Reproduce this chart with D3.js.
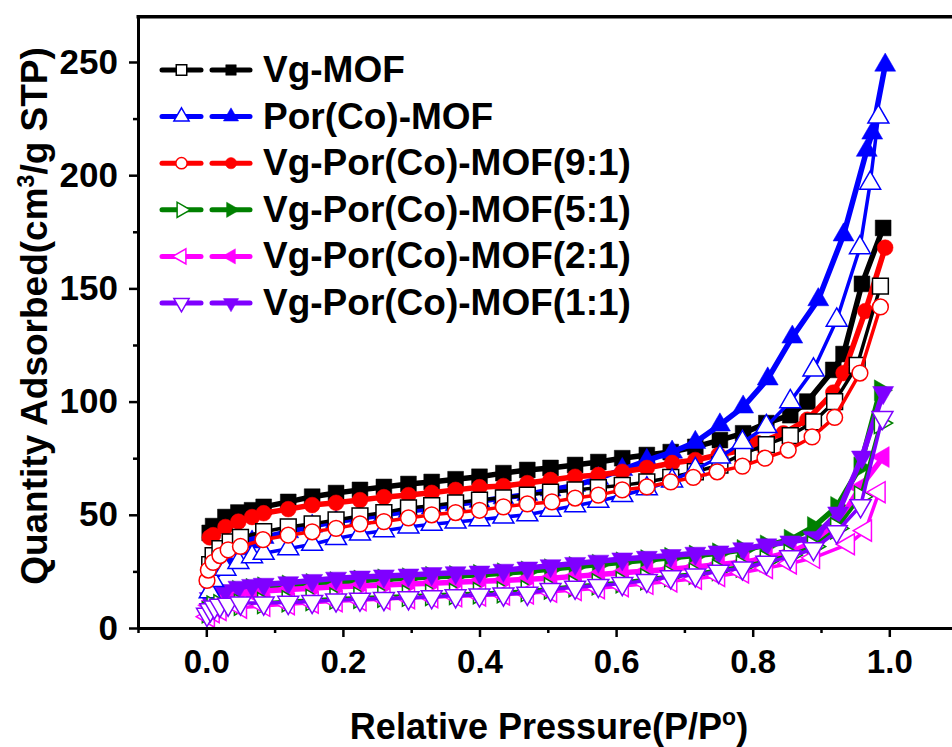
<!DOCTYPE html>
<html lang="en">
	<head>
		<meta charset="utf-8">
		<title>N2 isotherms</title>
		<script type="text/javascript" src="https://cdn.jsdelivr.net/npm/d3@7"></script>
		<style type="text/css">
			body { margin: 0; background: #fff; }
			svg { display: block; overflow: hidden; }
			.lbl {
				font-family: "Liberation Sans", Arial, Helvetica, sans-serif;
				font-weight: bold;
				fill: #000;
			}
		</style>
	</head>
	<body>
		<script type="text/javascript">

			//Width and height
			var w = 952;
			var h = 747;

			//Data: [P/P0, quantity]
			var vgAds = [[0.005,42],[0.01,45],[0.028,49],[0.047,51],[0.067,52],[0.084,53.5],[0.12,55.7],[0.155,58],[0.19,59.6],[0.225,61],[0.26,62.3],[0.296,63.6],[0.33,64.5],[0.365,65.7],[0.4,66.8],[0.435,68.4],[0.47,69.8],[0.504,70.7],[0.54,72],[0.574,73.3],[0.609,75],[0.645,76.4],[0.68,77.7],[0.716,80],[0.752,83],[0.786,86],[0.82,90.5],[0.855,94],[0.88,100],[0.918,114],[0.933,121],[0.96,152],[0.991,176.7]];
			var vgDes = [[0.005,28],[0.01,32],[0.02,35],[0.035,38],[0.05,40],[0.084,42.5],[0.12,44.6],[0.155,46],[0.19,47.7],[0.225,49.5],[0.26,51],[0.296,53],[0.33,54],[0.365,55.3],[0.4,56.5],[0.435,57.5],[0.47,58.7],[0.504,60],[0.54,61],[0.574,62],[0.609,63],[0.645,64.5],[0.68,66.5],[0.716,69],[0.752,72],[0.786,77],[0.82,81],[0.855,85],[0.889,91],[0.92,100],[0.953,116],[0.987,151]];

			var porAds = [[0.005,22],[0.01,26],[0.028,31],[0.047,35],[0.067,38],[0.084,40],[0.12,42.5],[0.155,45],[0.19,47],[0.225,48.5],[0.26,50],[0.296,51.5],[0.33,53],[0.365,54.5],[0.4,56],[0.435,57.5],[0.47,59],[0.504,61],[0.54,63],[0.574,66],[0.609,70],[0.645,74],[0.682,77.7],[0.716,82],[0.752,89.7],[0.786,97.6],[0.822,110],[0.858,128.5],[0.896,145],[0.933,173.6],[0.967,211],[0.975,218.6],[0.994,248.6]];
			var porDes = [[0.005,16],[0.01,21],[0.028,26],[0.047,29],[0.067,31.5],[0.084,33],[0.12,35],[0.155,37],[0.19,39.5],[0.225,41.5],[0.26,43],[0.296,44.6],[0.33,45.8],[0.365,46.8],[0.4,47.8],[0.435,49],[0.47,50],[0.504,52],[0.54,54],[0.574,56],[0.609,58.5],[0.645,61.5],[0.682,65],[0.716,70],[0.752,75.5],[0.785,82],[0.82,89],[0.855,100],[0.889,114],[0.923,136],[0.957,168],[0.972,196.5],[0.984,225.7]];

			var r91Ads = [[0.005,40],[0.01,41],[0.028,44.6],[0.047,47],[0.067,49],[0.084,50.7],[0.12,52.5],[0.155,54.3],[0.19,55.3],[0.225,56.5],[0.26,57.8],[0.296,58.7],[0.33,59.7],[0.365,61],[0.4,62.2],[0.435,62.7],[0.47,64],[0.504,65.4],[0.54,66.8],[0.574,67.6],[0.609,69],[0.645,70.7],[0.682,72.9],[0.716,74.2],[0.75,76.4],[0.786,78.6],[0.807,81.7],[0.845,86],[0.88,92],[0.918,104],[0.933,112.6],[0.965,140],[0.994,168]];
			var r91Des = [[0.001,21],[0.003,25.6],[0.01,29],[0.02,32],[0.032,34.5],[0.05,36],[0.083,39],[0.12,41],[0.155,42.5],[0.19,44],[0.225,46],[0.26,47],[0.296,48.6],[0.33,50],[0.365,51],[0.4,52],[0.435,53.5],[0.47,54.8],[0.506,55.7],[0.54,57.4],[0.574,58.7],[0.609,61],[0.645,62.3],[0.68,64.5],[0.713,66.5],[0.748,69],[0.785,71.5],[0.818,75],[0.852,78.6],[0.887,84.4],[0.92,93],[0.957,112.6],[0.987,141.8]];

			var r51Ads = [[0.005,12],[0.01,14],[0.028,15.5],[0.047,16.5],[0.067,17.3],[0.084,18],[0.12,18.8],[0.155,19.5],[0.19,20.3],[0.225,21],[0.26,21.5],[0.296,22],[0.33,22.6],[0.365,23],[0.4,23.5],[0.435,24.2],[0.47,25],[0.504,26],[0.54,27],[0.574,28],[0.609,29],[0.645,30],[0.68,31],[0.716,32],[0.75,33],[0.786,34.5],[0.82,36.5],[0.855,39],[0.889,44.6],[0.923,53.5],[0.957,71],[0.987,105]];
			var r51Des = [[0.003,7],[0.01,9.5],[0.02,10],[0.05,10.3],[0.084,11],[0.12,11.8],[0.155,12.4],[0.19,13],[0.225,13.4],[0.26,13.8],[0.296,14.2],[0.33,14.6],[0.365,15],[0.4,15.4],[0.435,15.8],[0.47,16.3],[0.504,17.5],[0.54,18.5],[0.574,19.3],[0.609,20.2],[0.645,21.5],[0.68,23],[0.716,24],[0.75,25.6],[0.785,27.2],[0.82,29.6],[0.855,32.2],[0.889,36],[0.923,44],[0.958,58],[0.987,90.5]];

			var r21Ads = [[0.005,10],[0.01,12],[0.028,13.5],[0.047,15],[0.067,15.8],[0.084,16.3],[0.12,17],[0.155,17.6],[0.19,18.2],[0.225,18.6],[0.26,19],[0.296,19.4],[0.33,19.8],[0.365,20.2],[0.4,20.6],[0.435,21],[0.47,21.5],[0.504,22],[0.54,22.8],[0.574,23.6],[0.609,24.4],[0.645,25.2],[0.68,26],[0.716,27],[0.75,28],[0.786,29],[0.82,31],[0.855,33.5],[0.889,38],[0.928,48],[0.957,62],[0.991,75.5]];
			var r21Des = [[0.003,5],[0.01,7],[0.02,8],[0.05,9],[0.084,9.8],[0.12,10.5],[0.155,11.2],[0.19,11.8],[0.225,12.3],[0.26,12.8],[0.296,13.2],[0.33,13.6],[0.365,14],[0.4,14.4],[0.435,14.8],[0.47,15.3],[0.504,16],[0.54,16.8],[0.574,17.6],[0.609,18.5],[0.645,19.5],[0.68,20.6],[0.716,21.8],[0.75,23],[0.785,24.5],[0.82,26.5],[0.855,28.5],[0.889,31],[0.94,37],[0.965,43],[0.985,60]];

			var r11Ads = [[0.005,13],[0.01,15.3],[0.028,16.5],[0.047,18],[0.067,18.8],[0.084,19.3],[0.12,20],[0.155,21],[0.19,22],[0.225,22.5],[0.26,23],[0.296,23.4],[0.33,24],[0.365,24.4],[0.4,24.7],[0.435,25.5],[0.47,26.5],[0.504,27.5],[0.54,28.5],[0.574,29.5],[0.609,30.5],[0.645,31.2],[0.68,32],[0.716,33],[0.75,33.6],[0.786,35],[0.82,36.7],[0.855,38],[0.889,40],[0.925,50.8],[0.96,75.5],[0.991,104]];
			var r11Des = [[0.001,6],[0.006,8],[0.012,9.3],[0.02,10],[0.032,10.5],[0.05,11],[0.084,11],[0.12,11.3],[0.155,11.7],[0.19,12.4],[0.225,12.7],[0.26,13],[0.296,13.3],[0.33,13.8],[0.365,14.2],[0.4,14.6],[0.435,15],[0.47,15.3],[0.504,17],[0.54,18],[0.574,18.8],[0.609,19.6],[0.645,21],[0.68,22.6],[0.716,23.4],[0.75,25],[0.785,26.5],[0.82,29],[0.855,31.4],[0.889,35],[0.923,42.5],[0.958,54],[0.99,93]];

			var names = ["Vg-MOF", "Por(Co)-MOF", "Vg-Por(Co)-MOF(9:1)", "Vg-Por(Co)-MOF(5:1)", "Vg-Por(Co)-MOF(2:1)", "Vg-Por(Co)-MOF(1:1)"];
			var colors = ["#000000", "#0000ff", "#ff0000", "#008000", "#ff00ff", "#7f00ff"];
			var shapes = ["square", "up", "circle", "right", "left", "down"];
			var filledData = [vgAds, porAds, r91Ads, r51Ads, r21Ads, r11Ads];
			var openData = [vgDes, porDes, r91Des, r51Des, r21Des, r11Des];

			var xTicks = [0, 0.2, 0.4, 0.6, 0.8, 1.0];
			var xMinor = [-0.1, 0.1, 0.3, 0.5, 0.7, 0.9];
			var yTicks = [0, 50, 100, 150, 200, 250];
			var yMinor = [25, 75, 125, 175, 225];

			var svg = d3.select("body")
				.append("svg")
				.attr("width", w)
				.attr("height", h);

			//scales, right end of the frame falls outside the picture
			var x = d3.scaleLinear().domain([-0.1, 1.1]).range([138, 957.6]);
			var y = d3.scaleLinear().domain([0, 270]).range([628, 16.7]);

			function symFor(shape, size) {
				var type = d3.symbolTriangle;
				if (shape == "square") type = d3.symbolSquare;
				if (shape == "circle") type = d3.symbolCircle;
				return d3.symbol().type(type).size(size)();
			}
			function rotFor(shape) {
				if (shape == "right") return 90;
				if (shape == "left") return -90;
				if (shape == "down") return 180;
				return 0;
			}
			function markerSize(shape) {
				if (shape == "square") return 250;
				if (shape == "circle") return 195;
				return 190;
			}

			var line = d3.line()
				.x(function(d) { return x(d[0]); })
				.y(function(d) { return y(d[1]); });

			function drawSeries(data, i, open) {
				var g = svg.append("g");
				g.append("path")
					.datum(data)
					.attr("d", line)
					.attr("fill", "none")
					.attr("stroke", colors[i])
					.attr("stroke-width", open ? 3.5 : 5.5)
					.attr("stroke-linejoin", "round");
				g.selectAll("path.m")
					.data(data)
					.enter()
					.append("path")
					.attr("class", "m")
					.attr("d", symFor(shapes[i], markerSize(shapes[i])))
					.attr("transform", function(d) {
						return "translate(" + x(d[0]) + "," + y(d[1]) + ") rotate(" + rotFor(shapes[i]) + ")";
					})
					.attr("fill", open ? "#fff" : colors[i])
					.attr("stroke", colors[i])
					.attr("stroke-width", open ? 1.5 : 0.5);
			}

			//filled branches first, open ones on top
			filledData.forEach(function(d, i) { drawSeries(d, i, false); });
			openData.forEach(function(d, i) { drawSeries(d, i, true); });

			//axes
			var xAxis = svg.append("g")
				.attr("transform", "translate(0,628)")
				.call(d3.axisBottom(x).tickValues(xTicks).tickFormat(d3.format(".1f")).tickSize(9).tickPadding(13).tickSizeOuter(0));
			svg.append("g")
				.attr("transform", "translate(0,628)")
				.call(d3.axisBottom(x).tickValues(xMinor).tickFormat("").tickSize(5).tickSizeOuter(0));
			var yAxis = svg.append("g")
				.attr("transform", "translate(138,0)")
				.call(d3.axisLeft(y).tickValues(yTicks).tickSize(9).tickPadding(11).tickSizeOuter(0));
			svg.append("g")
				.attr("transform", "translate(138,0)")
				.call(d3.axisLeft(y).tickValues(yMinor).tickFormat("").tickSize(5).tickSizeOuter(0));

			svg.selectAll(".domain").attr("stroke", "#000").attr("stroke-width", 3);
			svg.selectAll(".tick line").attr("stroke", "#000").attr("stroke-width", 2.5);
			xAxis.selectAll("text").attr("class", "lbl").style("font-size", "33px");
			yAxis.selectAll("text").attr("class", "lbl").style("font-size", "35px");

			//top frame line
			svg.append("line")
				.attr("x1", 136.5).attr("x2", 957.6)
				.attr("y1", y(270)).attr("y2", y(270))
				.attr("stroke", "#000").attr("stroke-width", 3.5);

			//axis titles
			var xt = svg.append("text")
				.attr("class", "lbl")
				.attr("x", 549).attr("y", 739)
				.attr("text-anchor", "middle")
				.style("font-size", "36px");
			xt.append("tspan").text("Relative Pressure(P/P");
			xt.append("tspan").attr("dy", -14).style("font-size", "23px").text("o");
			xt.append("tspan").attr("dy", 14).text(")");

			var yt = svg.append("text")
				.attr("class", "lbl")
				.attr("transform", "translate(47,316) rotate(-90)")
				.attr("text-anchor", "middle")
				.style("font-size", "37px");
			yt.append("tspan").text("Quantity Adsorbed(cm");
			yt.append("tspan").attr("dy", -13).style("font-size", "23px").text("3");
			yt.append("tspan").attr("dy", 13).text("/g STP)");

			//legend
			var legend = svg.selectAll("g.leg")
				.data(names)
				.enter()
				.append("g")
				.attr("class", "leg")
				.attr("transform", function(d, i) { return "translate(0," + (70 + i * 46.6) + ")"; });

			legend.each(function(d, i) {
				var g = d3.select(this);
				[[162, 201, 181.5, true], [212, 250, 231, false]].forEach(function(s) {
					g.append("line")
						.attr("x1", s[0]).attr("x2", s[1])
						.attr("stroke", colors[i])
						.attr("stroke-width", 5)
						.attr("stroke-linecap", "round");
					g.append("path")
						.attr("d", symFor(shapes[i], shapes[i] == "square" ? 110 : 100))
						.attr("transform", "translate(" + s[2] + ",0) rotate(" + rotFor(shapes[i]) + ")")
						.attr("fill", s[3] ? "#fff" : colors[i])
						.attr("stroke", colors[i])
						.attr("stroke-width", s[3] ? 1.5 : 0.5);
				});
				g.append("text")
					.attr("class", "lbl")
					.attr("x", 263)
					.attr("y", 12)
					.style("font-size", "37px")
					.text(d);
			});

		</script>
	</body>
</html>
